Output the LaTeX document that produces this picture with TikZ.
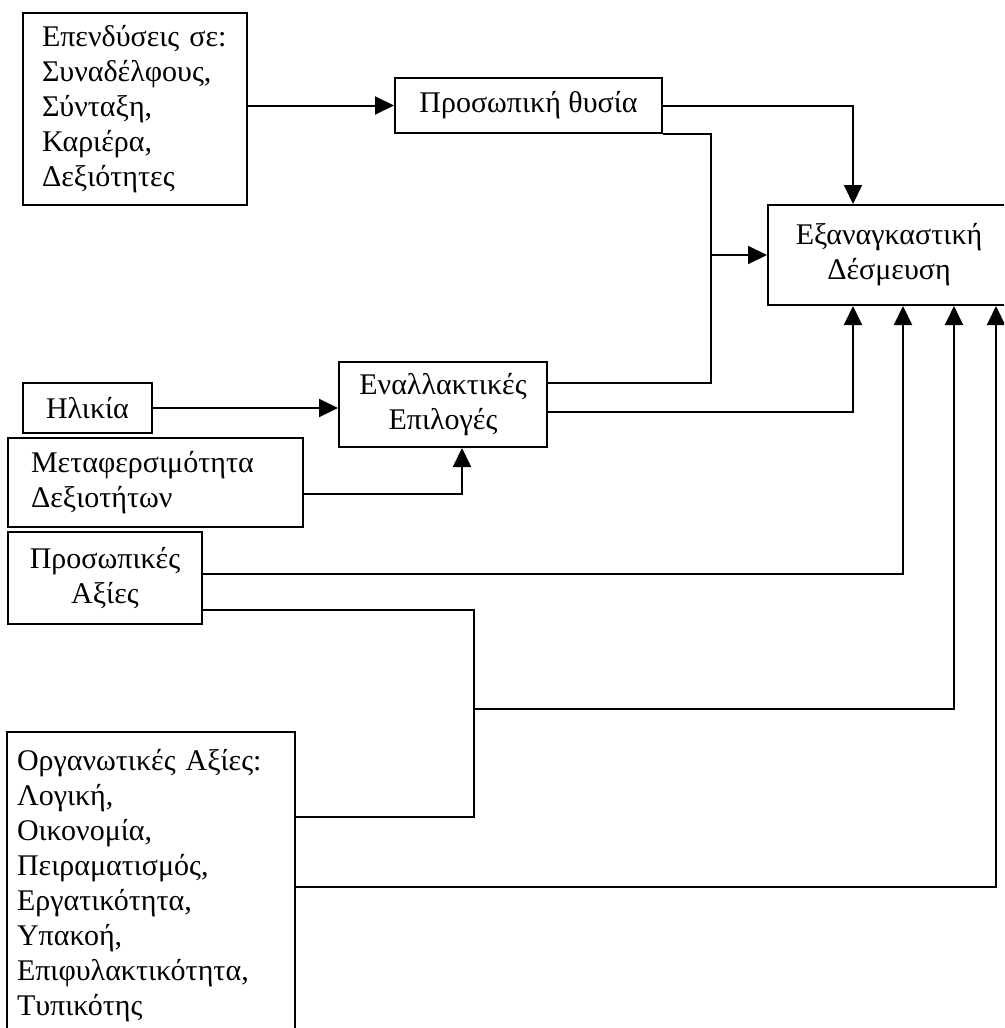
\documentclass[tikz,border=0pt]{standalone}
\usepackage{fontspec}
\setmainfont{Liberation Serif}
\usetikzlibrary{calc,arrows.meta}
\tikzset{
    lab/.style={
        font=\fontsize{30}{35}\selectfont
    },
    box/.style={
        lab, draw, line width=2pt, inner sep=0pt
    },
    wire/.style={
        line width=2pt
    },
    arr/.style={
        wire, -{Triangle[length=19pt,width=18pt]}
    }
}

\begin{document}
\begin{tikzpicture}[x=1pt,y=-1pt]

% --- page ---
    \useasboundingbox (0,0) rectangle (1004,1028);
    \clip (0,0) rectangle (1004,1028);

% --- boxes ---
    \node[box, minimum width=224pt, minimum height=192pt, text width=186pt, align=left]
        (epend) at (135,109) {Επενδύσεις σε:\\Συναδέλφους,\\Σύνταξη,\\Καριέρα,\\Δεξιότητες};
    \node[box, minimum width=267pt, minimum height=55pt] (thusia) at (528.5,105.5) {Προσωπική θυσία};
    \node[box, minimum width=242pt, minimum height=100pt, align=center]
        (desm) at (889,255) {Εξαναγκαστική\\Δέσμευση};
    \node[box, minimum width=208pt, minimum height=85pt, align=center]
        (enal) at (443,404.5) {Εναλλακτικές\\Επιλογές};
    \node[box, minimum width=129pt, minimum height=50pt] (ilikia) at (87.5,408) {Ηλικία};
    \node[box, minimum width=295pt, minimum height=89pt, text width=249pt, align=left]
        (metaf) at (155.5,482.5) {Μεταφερσιμότητα\\Δεξιοτήτων};
    \node[box, minimum width=194pt, minimum height=92pt, align=center]
        (prosax) at (105,578) {Προσωπικές\\Αξίες};
    \node[box, minimum width=288pt, minimum height=308pt, text width=268pt, align=left]
        (orgs) at (151,886) {Οργανωτικές Αξίες:\\Λογική,\\Οικονομία,\\Πειραματισμός,\\Εργατικότητα,\\Υπακοή,\\Επιφυλακτικότητα,\\Τυπικότης};

% --- junctions ---
    \coordinate (jn) at (711,255);
    \coordinate (jv) at (474,709);

% --- connectors ---
    \draw[arr] (epend.east |- thusia.west) -- (thusia.west);
    \draw[arr] (thusia.east) -| ($(desm.north west)+(86,0)$);

    \draw[wire] ($(enal.east)+(0,-21.5)$) -| (jn) |- (thusia.south east);
    \draw[arr] (jn) -- (jn -| desm.west);
    \draw[arr] ($(enal.east)+(0,7.5)$) -| ($(desm.south west)+(86,0)$);

    \draw[arr] (ilikia.east) -- (ilikia.east -| enal.west);
    \draw[arr] ($(metaf.east)+(0,11.5)$) -| ($(enal.south)+(19,0)$);

    \draw[arr] ($(prosax.east)+(0,-4)$) -| ($(desm.south west)+(136,0)$);
    \draw[wire] ($(prosax.east)+(0,32)$) -| (jv) |- ($(orgs.north east)+(0,86)$);
    \draw[arr] (jv) -| ($(desm.south west)+(187,0)$);
    \draw[arr] ($(orgs.north east)+(0,156)$) -| ($(desm.south west)+(229,0)$);

\end{tikzpicture}
\end{document}
